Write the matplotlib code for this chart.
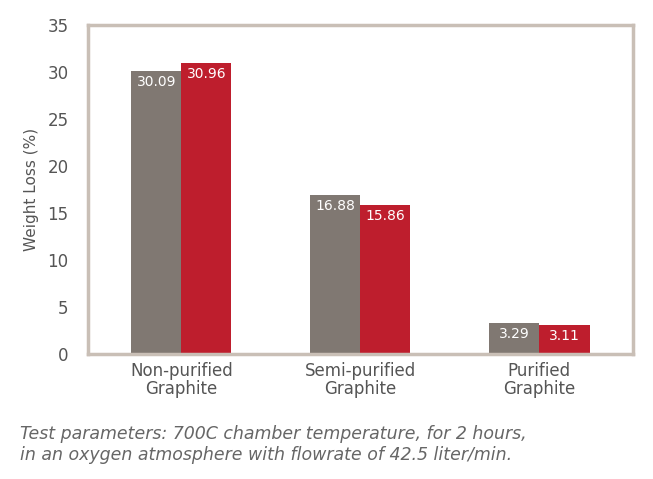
import matplotlib
matplotlib.use("Agg")
import matplotlib.pyplot as plt
import numpy as np

categories = ["Non-purified\nGraphite", "Semi-purified\nGraphite", "Purified\nGraphite"]
series_a = [30.09, 16.88, 3.29]
series_b = [30.96, 15.86, 3.11]
yticks = [0, 5, 10, 15, 20, 25, 30, 35]

gray = "#807872"
red = "#be1e2d"
frame = "#c9bfb6"
txt = "#555555"

fig = plt.figure(figsize=(6.53, 4.79), dpi=100)
ax = fig.add_axes([0.135, 0.261, 0.835, 0.687])
x = np.arange(len(categories))
w = 0.28
ba = ax.bar(x - w/2, series_a, w, color=gray)
bb = ax.bar(x + w/2, series_b, w, color=red)
for bars, vals in ((ba, series_a), (bb, series_b)):
    for b, v in zip(bars, vals):
        ax.text(b.get_x() + b.get_width()/2, v - 0.4, f"{v:.2f}", ha="center", va="top",
                color="white", fontsize=10)
ax.set_xlim(-0.52, 2.525)
ax.set_ylim(0, 35)
ax.set_yticks(yticks)
ax.set_xticks(x)
ax.set_xticklabels(categories, fontsize=12, color=txt, linespacing=1.0)
ax.tick_params(axis="y", labelsize=12, labelcolor=txt, length=0, pad=14)
ax.tick_params(axis="x", length=0, pad=6)
ax.set_ylabel("Weight Loss (%)", fontsize=11, color=txt, labelpad=6)
for s in ax.spines.values():
    s.set_color(frame)
    s.set_linewidth(2.5)
fig.text(0.03, 0.072, "Test parameters: 700C chamber temperature, for 2 hours,\nin an oxygen atmosphere with flowrate of 42.5 liter/min.",
         fontsize=12.5, style="italic", color="#666666", va="center", linespacing=1.15)
fig.savefig("out.png", dpi=100)
